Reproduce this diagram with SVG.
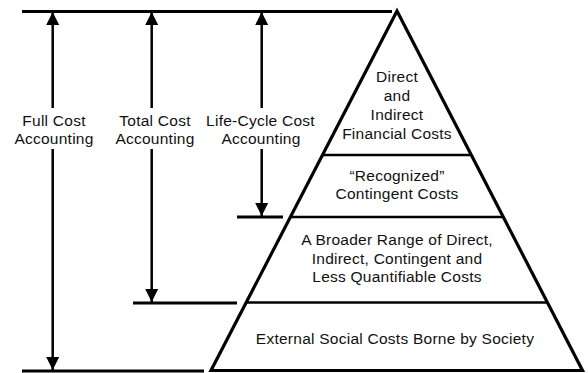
<svg xmlns="http://www.w3.org/2000/svg" width="588" height="373" viewBox="0 0 588 373">
  <style>
    .rule { stroke: #000; stroke-width: 3; fill: none; }
    .shaft { stroke: #000; stroke-width: 2.5; fill: none; }
    .tier { stroke: #000; stroke-width: 2.5; }
    .outline { stroke: #000; stroke-width: 3.2; fill: #fff; stroke-linejoin: miter; }
    text { font-family: "Liberation Sans", Arial, Helvetica, sans-serif; font-size: 15.5px; letter-spacing: 0.25px; fill: #111; text-anchor: middle; }
  </style>
  <defs>
    <marker id="head" markerUnits="userSpaceOnUse" markerWidth="14" markerHeight="14" viewBox="0 0 14 14" refX="13" refY="7" orient="auto">
      <path d="M0,0.5 L13,7 L0,13.5 Z" fill="#000"/>
    </marker>
  </defs>

  <!-- reference rules: top, bottom and the two step rules -->
  <g id="rules">
    <line class="rule" x1="22" y1="11.5" x2="392" y2="11.5"/>
    <line class="rule" x1="22" y1="371" x2="204" y2="371"/>
    <line class="rule" x1="133" y1="303" x2="237" y2="303"/>
    <line class="rule" x1="237" y1="217" x2="283" y2="217"/>
  </g>

  <!-- pyramid -->
  <g id="pyramid">
    <polygon class="outline" points="397,11 211,370.5 582.5,370.5"/>
    <line class="tier" x1="322" y1="155" x2="472" y2="155"/>
    <line class="tier" x1="290" y1="217" x2="504" y2="217"/>
    <line class="tier" x1="246" y1="302.5" x2="548" y2="302.5"/>
  </g>

  <g id="tier-financial">
    <text x="397" y="82">Direct</text>
    <text x="397" y="101">and</text>
    <text x="397" y="120">Indirect</text>
    <text x="397" y="139">Financial Costs</text>
  </g>
  <g id="tier-contingent">
    <text x="397" y="181">“Recognized”</text>
    <text x="397" y="199">Contingent Costs</text>
  </g>
  <g id="tier-broader">
    <text x="397" y="245">A Broader Range of Direct,</text>
    <text x="397" y="264">Indirect, Contingent and</text>
    <text x="397" y="282">Less Quantifiable Costs</text>
  </g>
  <g id="tier-external">
    <text x="395" y="344">External Social Costs Borne by Society</text>
  </g>

  <!-- accounting scope arrows -->
  <g id="connectors">
    <line class="shaft" x1="52.7" y1="108" x2="52.7" y2="12" marker-end="url(#head)"/>
    <line class="shaft" x1="52.7" y1="149" x2="52.7" y2="370" marker-end="url(#head)"/>
    <line class="shaft" x1="151.7" y1="108" x2="151.7" y2="12" marker-end="url(#head)"/>
    <line class="shaft" x1="151.7" y1="149" x2="151.7" y2="302" marker-end="url(#head)"/>
    <line class="shaft" x1="261.7" y1="108" x2="261.7" y2="12" marker-end="url(#head)"/>
    <line class="shaft" x1="261.7" y1="149" x2="261.7" y2="216" marker-end="url(#head)"/>
  </g>

  <g id="label-full">
    <text x="54" y="126">Full Cost</text>
    <text x="54" y="144">Accounting</text>
  </g>
  <g id="label-total">
    <text x="155" y="126">Total Cost</text>
    <text x="155" y="144">Accounting</text>
  </g>
  <g id="label-lifecycle">
    <text x="260.5" y="126">Life-Cycle Cost</text>
    <text x="261" y="144">Accounting</text>
  </g>
</svg>
